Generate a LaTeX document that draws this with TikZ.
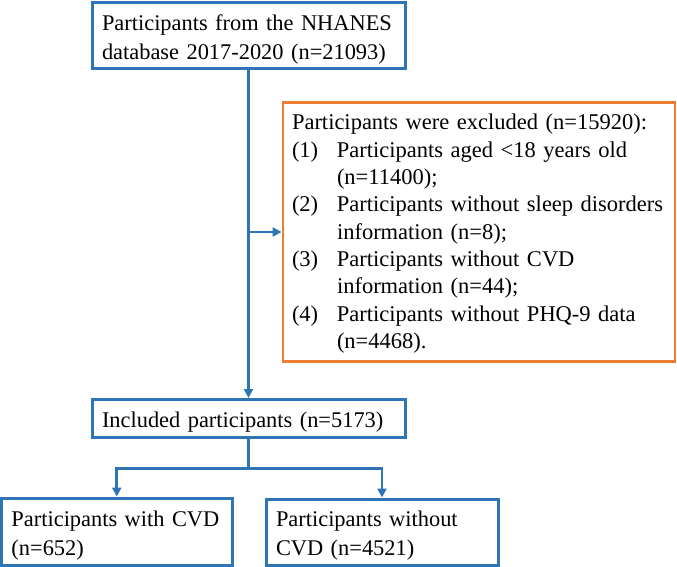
\documentclass[tikz,border=0pt]{standalone}
\usepackage{fontspec}
\setmainfont{Liberation Serif}
\usetikzlibrary{arrows.meta,calc}
\definecolor{flowblue}{RGB}{46,117,182}
\definecolor{floworange}{RGB}{237,125,49}
\newcommand{\exnum}[1]{\makebox[45pt][l]{#1}}

\begin{document}
\begin{tikzpicture}[
    x=1pt, y=-1pt,
    >={Triangle[length=9pt,width=9pt]},
    box/.style={
        rectangle,
        draw=flowblue,
        line width=3pt,
        inner xsep=10pt,
        inner ysep=0pt,
        align=left,
        font=\fontsize{22.4}{28.8}\selectfont,
        execute at begin node={\rule{0pt}{23pt}}
    },
    link/.style={draw=flowblue, line width=2.6pt}
]
\useasboundingbox (0,0) rectangle (677,567);

\node[box, text width=293pt, minimum height=66pt] (src) at (248.5,36)
    {Participants from the NHANES\\database 2017-2020 (n=21093)};
\node[box, draw=floworange, line width=2.8pt, inner xsep=9pt, text width=374pt,
    minimum height=259pt, text height=20pt, text depth=224pt,
    execute at begin node={}, font=\fontsize{22.5}{27.3}\selectfont] (excl) at (479,232)
    {\begin{tabular}[t]{@{}l@{}l@{}}
     \multicolumn{2}{@{}l@{}}{Participants were excluded (n=15920):}\\
     \exnum{(1)} & Participants aged <18 years old\\
         & (n=11400);\\
     \exnum{(2)} & Participants without sleep disorders\\
         & information (n=8);\\
     \exnum{(3)} & Participants without CVD\\
         & information (n=44);\\
     \exnum{(4)} & Participants without PHQ-9 data\\
         & (n=4468).
     \end{tabular}};
\node[box, text width=293pt, minimum height=37.5pt] (incl) at (248.5,418.25)
    {Included participants (n=5173)};
\node[box, text width=210.5pt, minimum height=67pt] (cvd) at (116.75,531.5)
    {Participants with CVD\\(n=652)};
\node[box, text width=212pt, minimum height=66pt] (nocvd) at (382,532)
    {Participants without\\CVD (n=4521)};

\coordinate (split) at (src.south |- excl.west);
\coordinate (fork) at ($(incl.south)+(0,30)$);

\draw[link, ->] (src.south) -- (incl.north);
\draw[link, ->] (split) -- (excl.west);
\draw[link] (incl.south) -- (fork);
\draw[link, ->] (fork) -| (cvd.north);
\draw[link, ->] (fork) -| (nocvd.north);

\end{tikzpicture}
\end{document}
